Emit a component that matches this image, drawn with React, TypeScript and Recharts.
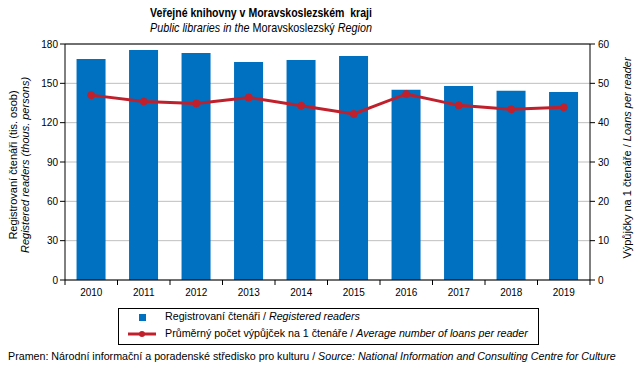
import React from 'react';
import {
  ComposedChart,
  Bar,
  Line,
  XAxis,
  YAxis,
  CartesianGrid,
  ReferenceLine,
} from 'recharts';

const years = ['2010', '2011', '2012', '2013', '2014', '2015', '2016', '2017', '2018', '2019'];
const readers = [168.6, 175.4, 173.2, 166.3, 167.8, 170.9, 145.2, 148.0, 144.4, 143.4];
const loansPerReader = [47.0, 45.4, 44.9, 46.4, 44.3, 42.2, 47.3, 44.4, 43.4, 43.9];
const leftTicks = [0, 30, 60, 90, 120, 150, 180];
const rightTicks = [0, 10, 20, 30, 40, 50, 60];

const data = years.map((year, i) => ({
  year,
  readers: readers[i],
  loans: loansPerReader[i],
}));

const BLUE = '#0070C0';
const RED = '#C0202C';
const FONT = '"Liberation Sans", Arial, sans-serif';

// ticks sit between the categories, like Excel does it
const YearTick = (props: any) => {
  const { x, y, payload, index } = props;
  const off = payload.offset ?? 26;
  const ay = y - 8;
  return (
    <g>
      <line x1={x - off} x2={x - off} y1={ay} y2={ay + 5} stroke="#000" />
      {index === years.length - 1 && (
        <line x1={x + off} x2={x + off} y1={ay} y2={ay + 5} stroke="#000" />
      )}
      <text x={x} y={y} dy={8} textAnchor="middle" fontSize={10} fill="#000" fontFamily={FONT}>
        {payload.value}
      </text>
    </g>
  );
};

export default function App() {
  return (
    <div
      style={{
        position: 'absolute',
        left: 0,
        top: 0,
        width: 643,
        height: 375,
        background: '#fff',
        fontFamily: FONT,
        color: '#000',
      }}
    >
      {/* titles (source font is a narrow one, so squeeze) */}
      <div
        style={{
          position: 'absolute',
          left: 61,
          width: 400,
          top: 5,
          textAlign: 'center',
          fontSize: 13,
          fontWeight: 'bold',
          whiteSpace: 'pre',
          lineHeight: '15px',
          transform: 'scaleX(0.81)',
        }}
      >
        {'Veřejné knihovny v Moravskoslezském  kraji'}
      </div>
      <div
        style={{
          position: 'absolute',
          left: 61,
          width: 400,
          top: 20,
          textAlign: 'center',
          fontSize: 13,
          lineHeight: '15px',
          transform: 'scaleX(0.83)',
        }}
      >
        <i>Public libraries in the</i> Moravskoslezský <i>Region</i>
      </div>

      <ComposedChart
        width={643}
        height={375}
        data={data}
        margin={{ top: 44, right: 0, bottom: 65, left: 0 }}
        barCategoryGap="22%"
      >
        <CartesianGrid yAxisId="left" vertical={false} stroke="#BFBFBF" />
        <XAxis
          dataKey="year"
          height={30}
          stroke="#000"
          tickLine={false}
          tickSize={6}
          tickMargin={2}
          tick={<YearTick />}
          interval={0}
        />
        <YAxis
          yAxisId="left"
          width={65}
          domain={[0, 180]}
          ticks={leftTicks}
          stroke="#000"
          tickSize={5}
          tickMargin={2}
          tick={{ fill: '#000', fontSize: 10, fontFamily: FONT }}
        />
        <YAxis
          yAxisId="right"
          orientation="right"
          width={53}
          domain={[0, 60]}
          ticks={rightTicks}
          stroke="#000"
          tickSize={5}
          tickMargin={3}
          tick={{ fill: '#000', fontSize: 10, fontFamily: FONT }}
        />
        <ReferenceLine yAxisId="left" y={180} stroke="#000" />
        <Bar yAxisId="left" dataKey="readers" fill={BLUE} isAnimationActive={false} />
        <Line
          yAxisId="right"
          dataKey="loans"
          stroke={RED}
          strokeWidth={3}
          dot={{ r: 3.5, fill: RED, stroke: RED, strokeWidth: 1 }}
          isAnimationActive={false}
        />
      </ComposedChart>

      {/* axis titles */}
      <div
        style={{
          position: 'absolute',
          left: 19,
          top: 165,
          transform: 'translate(-50%, -50%) rotate(-90deg)',
          whiteSpace: 'nowrap',
          fontSize: 11,
          lineHeight: '12px',
          textAlign: 'center',
        }}
      >
        <div>Registrovaní čtenáři (tis. osob)</div>
        <div style={{ fontStyle: 'italic' }}>Registered readers (thous. persons)</div>
      </div>
      <div
        style={{
          position: 'absolute',
          left: 627,
          top: 158,
          transform: 'translate(-50%, -50%) rotate(-90deg)',
          whiteSpace: 'nowrap',
          fontSize: 11,
          lineHeight: '12px',
        }}
      >
        Výpůjčky na 1 čtenáře / <i>Loans per reader</i>
      </div>

      {/* legend */}
      <div
        style={{
          position: 'absolute',
          left: 118,
          top: 308,
          width: 419,
          height: 35,
          border: '1px solid #000',
          fontSize: 10.7,
        }}
      >
        <div style={{ position: 'absolute', left: 20, top: 5, width: 7, height: 7, background: BLUE }} />
        <div style={{ position: 'absolute', left: 46, top: 1, whiteSpace: 'nowrap' }}>
          Registrovaní čtenáři / <i>Registered readers</i>
        </div>
        <svg style={{ position: 'absolute', left: 8, top: 20 }} width={30} height={10}>
          <line x1={1} x2={29} y1={5} y2={5} stroke={RED} strokeWidth={3} />
          <circle cx={15} cy={5} r={3} fill={RED} />
        </svg>
        <div style={{ position: 'absolute', left: 46, top: 18, whiteSpace: 'nowrap' }}>
          Průměrný počet výpůjček na 1 čtenáře / <i>Average number of loans per reader</i>
        </div>
      </div>

      {/* source */}
      <div
        style={{
          position: 'absolute',
          left: 8,
          top: 350,
          fontSize: 10.7,
          whiteSpace: 'nowrap',
        }}
      >
        Pramen: Národní informační a poradenské středisko pro kulturu / <i>Source: National Information and Consulting Centre for Culture</i>
      </div>
    </div>
  );
}
